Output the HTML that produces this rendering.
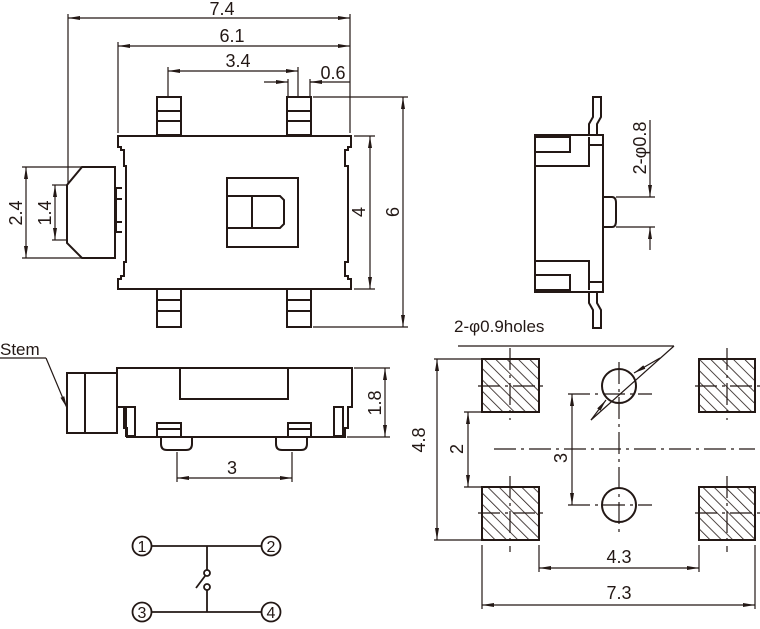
<!DOCTYPE html>
<html><head><meta charset="utf-8"><style>
html,body{margin:0;padding:0;background:#fff;}
svg{display:block;}
text{font-family:"Liberation Sans",Arial,sans-serif;fill:#231815;}
</style></head><body>
<svg width="760" height="629" viewBox="0 0 760 629" xmlns="http://www.w3.org/2000/svg">
<defs>
<marker id="a" viewBox="0 0 12 6" refX="12" refY="3" markerWidth="12" markerHeight="6" orient="auto-start-reverse" markerUnits="userSpaceOnUse"><path d="M0,1 L12,3 L0,5z" fill="#231815"/></marker>
<pattern id="h" patternUnits="userSpaceOnUse" width="8" height="8" patternTransform="rotate(-45)"><line x1="0" y1="0" x2="0" y2="8" stroke="#231815" stroke-width="1.6"/></pattern>
</defs>
<g stroke="#231815" fill="none" stroke-width="1.2">
<!-- top dims -->
<line x1="68" y1="18" x2="350" y2="18" marker-start="url(#a)" marker-end="url(#a)"/>
<line x1="118" y1="46" x2="350" y2="46" marker-start="url(#a)" marker-end="url(#a)"/>
<line x1="168" y1="71" x2="298" y2="71" marker-start="url(#a)" marker-end="url(#a)"/>
<line x1="264" y1="82" x2="288" y2="82" marker-end="url(#a)"/>
<line x1="310" y1="82" x2="350" y2="82"/>
<line x1="320" y1="82" x2="310" y2="82" marker-end="url(#a)"/>
<line x1="68" y1="14" x2="68" y2="183"/>
<line x1="350" y1="14" x2="350" y2="133"/>
<line x1="118" y1="42" x2="118" y2="133"/>
<line x1="168" y1="67" x2="168" y2="97"/>
<line x1="288" y1="79" x2="288" y2="97"/>
<line x1="298" y1="67" x2="298" y2="97"/>
<line x1="310" y1="79" x2="310" y2="97"/>
<!-- pins -->
<g stroke-width="2">
<rect x="157" y="97" width="24" height="38"/><line x1="157" y1="111" x2="181" y2="111"/><line x1="157" y1="121" x2="181" y2="121"/>
<rect x="287" y="97" width="24" height="38"/><line x1="287" y1="111" x2="311" y2="111"/><line x1="287" y1="121" x2="311" y2="121"/>
<rect x="157" y="289" width="24" height="38"/><line x1="157" y1="300" x2="181" y2="300"/><line x1="157" y1="311" x2="181" y2="311"/>
<rect x="287" y="289" width="24" height="38"/><line x1="287" y1="300" x2="311" y2="300"/><line x1="287" y1="311" x2="311" y2="311"/>
<!-- body -->
<path d="M118,136 H351 V147 H348 V150 H345 V166 H348 V262 H345 V276 H348 V279 H351 V289 H118 V279 H121 V276 H124 V262 H126 V166 H124 V150 H121 V147 H118 Z" fill="#fff"/>
<!-- stem -->
<path d="M82,167 H115 V258 H82 L67,243 V185 Z"/>
<path d="M116,188 V232 M116,188 H122 M116,199 H122 M116,222 H122 M116,232 H122"/>
<!-- slider -->
<rect x="227" y="178" width="71" height="69"/>
<path d="M228,196 H280 L284,200 V224 L280,228 H228"/>
<line x1="252" y1="196" x2="252" y2="228"/>
</g>
<!-- left dims -->
<line x1="22" y1="167" x2="82" y2="167"/><line x1="22" y1="258" x2="82" y2="258"/>
<line x1="26" y1="167" x2="26" y2="258" marker-start="url(#a)" marker-end="url(#a)"/>
<line x1="52" y1="185" x2="67" y2="185"/><line x1="52" y1="240" x2="67" y2="240"/>
<line x1="55" y1="185" x2="55" y2="240" marker-start="url(#a)" marker-end="url(#a)"/>
<!-- right dims -->
<line x1="354" y1="136" x2="375" y2="136"/><line x1="354" y1="289" x2="375" y2="289"/>
<line x1="370" y1="136" x2="370" y2="289" marker-start="url(#a)" marker-end="url(#a)"/>
<line x1="313" y1="97" x2="408" y2="97"/><line x1="313" y1="327" x2="408" y2="327"/>
<line x1="403" y1="97" x2="403" y2="327" marker-start="url(#a)" marker-end="url(#a)"/>
<!-- side view -->
<g stroke-width="2">
<path d="M535,135 H603 V292 H535 Z"/>
<path d="M535,137 H570 V152 H535 M535,166 H589 V137 M589,145 H603"/>
<path d="M535,290 H570 V275 H535 M535,261 H589 V290 M589,282 H603"/>
<path d="M589,135 V124 L593,117 V97 H601 V117 L597,124 V135"/>
<path d="M589,292 V303 L593,310 V328 H601 V310 L597,303 V292"/>
<path d="M603,197 H612 Q616,197 616,203 V221 Q616,227 612,227 H603"/>
</g>
<line x1="616" y1="197" x2="655" y2="197"/><line x1="616" y1="227" x2="655" y2="227"/>
<line x1="650" y1="120" x2="650" y2="197" marker-end="url(#a)"/>
<line x1="650" y1="250" x2="650" y2="227" marker-end="url(#a)"/>
<!-- front view -->
<g stroke-width="2">
<path d="M117,368 H352 V407 H348 V428 H345 V437 H127 V428 H124 V407 H117 Z"/>
<rect x="180" y="368" width="108" height="31"/>
<rect x="67" y="373" width="50" height="60"/><line x1="85" y1="373" x2="85" y2="433"/>
<rect x="126" y="407" width="9" height="29"/><rect x="334" y="407" width="9" height="29"/>
<rect x="157" y="423" width="24" height="14"/><line x1="157" y1="429" x2="181" y2="429"/>
<rect x="288" y="423" width="23" height="14"/><line x1="288" y1="429" x2="311" y2="429"/>
<path d="M161,437 V444 Q161,450 167,450 H186 Q192,450 192,444 V437"/>
<path d="M276,437 V444 Q276,450 282,450 H301 Q307,450 307,444 V437"/>
</g>
<line x1="0" y1="358" x2="46" y2="358"/><line x1="46" y1="358" x2="67" y2="408" marker-end="url(#a)"/>
<line x1="177" y1="452" x2="177" y2="482"/><line x1="292" y1="452" x2="292" y2="482"/>
<line x1="177" y1="478" x2="292" y2="478" marker-start="url(#a)" marker-end="url(#a)"/>
<line x1="354" y1="368" x2="390" y2="368"/><line x1="347" y1="437" x2="390" y2="437"/>
<line x1="385" y1="368" x2="385" y2="437" marker-start="url(#a)" marker-end="url(#a)"/>
<!-- footprint -->
<g stroke-width="2">
<rect x="482" y="359" width="57" height="53" fill="url(#h)"/>
<rect x="699" y="359" width="56" height="53" fill="url(#h)"/>
<rect x="482" y="487" width="57" height="53" fill="url(#h)"/>
<rect x="699" y="487" width="56" height="53" fill="url(#h)"/>
<circle cx="619" cy="386" r="17"/><circle cx="619" cy="505" r="17"/>
</g>
<g stroke-dasharray="22,5,3,5">
<line x1="494" y1="449" x2="755" y2="449"/>
<line x1="619" y1="362" x2="619" y2="535"/>
<line x1="510" y1="348" x2="510" y2="420"/><line x1="510" y1="476" x2="510" y2="552"/>
<line x1="727" y1="348" x2="727" y2="420"/><line x1="727" y1="476" x2="727" y2="552"/>
<line x1="478" y1="386" x2="545" y2="386"/><line x1="695" y1="386" x2="760" y2="386"/>
<line x1="478" y1="513" x2="545" y2="513"/><line x1="695" y1="513" x2="760" y2="513"/>
<line x1="568" y1="394" x2="652" y2="394"/><line x1="568" y1="505" x2="652" y2="505"/>
</g>
<line x1="458" y1="346" x2="674" y2="346"/>
<line x1="674" y1="346" x2="591" y2="420"/>
<line x1="660" y1="358" x2="634" y2="373" marker-end="url(#a)"/>
<line x1="591" y1="420" x2="606" y2="400" marker-end="url(#a)"/>
<line x1="434" y1="359" x2="482" y2="359"/><line x1="434" y1="540" x2="482" y2="540"/>
<line x1="437" y1="359" x2="437" y2="540" marker-start="url(#a)" marker-end="url(#a)"/>
<line x1="464" y1="412" x2="482" y2="412"/><line x1="464" y1="487" x2="482" y2="487"/>
<line x1="468" y1="412" x2="468" y2="487" marker-start="url(#a)" marker-end="url(#a)"/>
<line x1="572" y1="394" x2="572" y2="505" marker-start="url(#a)" marker-end="url(#a)"/>
<line x1="539" y1="545" x2="539" y2="572"/><line x1="699" y1="545" x2="699" y2="572"/>
<line x1="539" y1="568" x2="699" y2="568" marker-start="url(#a)" marker-end="url(#a)"/>
<line x1="482" y1="545" x2="482" y2="609"/><line x1="755" y1="545" x2="755" y2="609"/>
<line x1="482" y1="605" x2="755" y2="605" marker-start="url(#a)" marker-end="url(#a)"/>
<!-- schematic -->
<g stroke-width="1.8">
<circle cx="142" cy="546" r="9.5"/><circle cx="271" cy="546" r="9.5"/>
<circle cx="142" cy="612" r="9.5"/><circle cx="271" cy="612" r="9.5"/>
<line x1="151" y1="546" x2="262" y2="546"/><line x1="151" y1="612" x2="262" y2="612"/>
<line x1="207" y1="546" x2="207" y2="570"/>
<circle cx="207" cy="573" r="3"/><circle cx="207" cy="587" r="3"/>
<line x1="196" y1="588" x2="205" y2="576"/>
<line x1="207" y1="590" x2="207" y2="612"/>
</g>
</g>
<g font-size="18">
<text x="222" y="15" text-anchor="middle">7.4</text>
<text x="232" y="42" text-anchor="middle">6.1</text>
<text x="238" y="67" text-anchor="middle">3.4</text>
<text x="333" y="79" text-anchor="middle">0.6</text>
<text transform="translate(22,213) rotate(-90)" text-anchor="middle">2.4</text>
<text transform="translate(51,213) rotate(-90)" text-anchor="middle">1.4</text>
<text transform="translate(365,212) rotate(-90)" text-anchor="middle">4</text>
<text transform="translate(399,212) rotate(-90)" text-anchor="middle">6</text>
<text transform="translate(646,148) rotate(-90)" text-anchor="middle">2-φ0.8</text>
<text x="0" y="355" font-size="17">Stem</text>
<text x="232" y="474" text-anchor="middle">3</text>
<text transform="translate(381,403) rotate(-90)" text-anchor="middle">1.8</text>
<text x="454" y="332" font-size="17">2-φ0.9holes</text>
<text transform="translate(425,440) rotate(-90)" text-anchor="middle">4.8</text>
<text transform="translate(463,449) rotate(-90)" text-anchor="middle">2</text>
<text transform="translate(567,458) rotate(-90)" text-anchor="middle">3</text>
<text x="619" y="563" text-anchor="middle">4.3</text>
<text x="619" y="599" text-anchor="middle">7.3</text>
</g>
<g font-size="16" text-anchor="middle">
<text x="142" y="552">1</text><text x="271" y="552">2</text>
<text x="142" y="618">3</text><text x="271" y="618">4</text>
</g>
</svg>
</body></html>
